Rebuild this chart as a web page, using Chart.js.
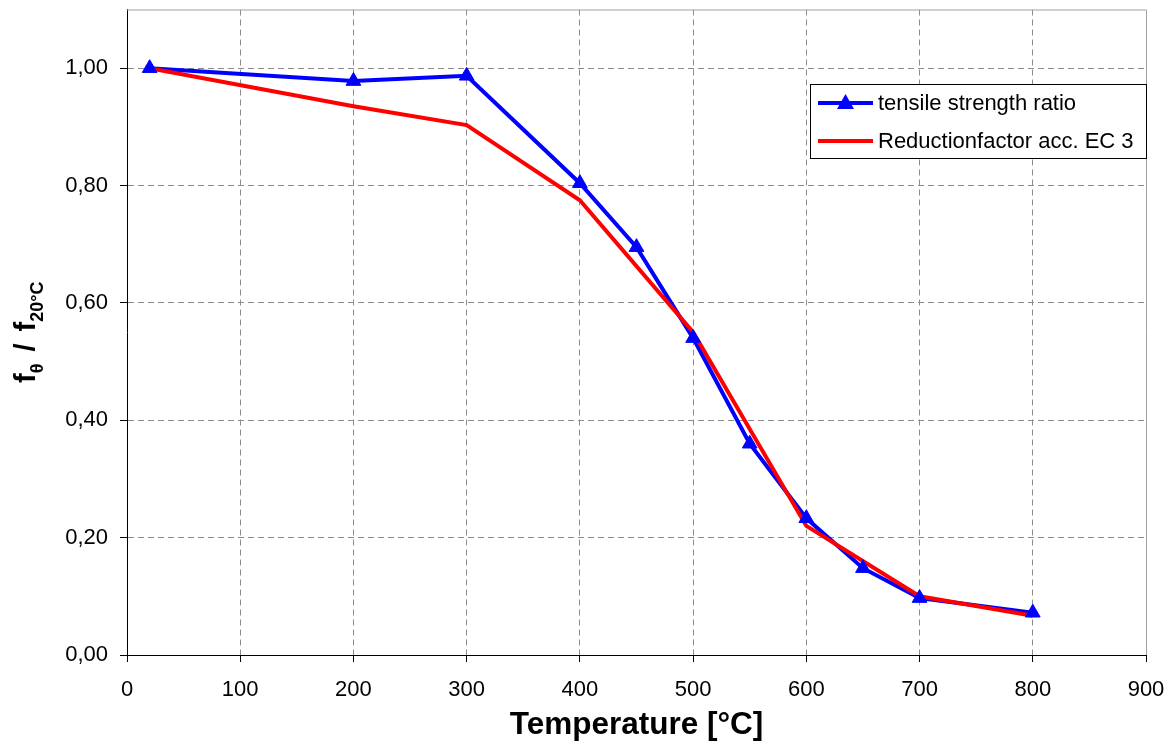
<!DOCTYPE html>
<html>
<head>
<meta charset="utf-8">
<title>Tensile strength ratio</title>
<script src="https://cdn.jsdelivr.net/npm/chart.js@4"></script>
<style>
    html, body { margin: 0; padding: 0; background: #fff; }
    #wrap { width: 1171px; height: 744px; }
</style>
</head>
<body>
<div id="wrap"><canvas id="tempChart" width="1171" height="744"></canvas></div>
<script>
// test results (blue) and EC 3 reduction factor (red)
const temps = [20, 200, 300, 400, 450, 500, 550, 600, 650, 700, 800];
const tensileRatio = [1.00, 0.978, 0.987, 0.804, 0.695, 0.54, 0.36, 0.233, 0.148, 0.097, 0.072];

const ecTemps = [20, 200, 300, 400, 500, 600, 700, 800];
const ecFactor = [1.00, 0.935, 0.903, 0.775, 0.550, 0.220, 0.100, 0.067];

const xTicks = [0, 100, 200, 300, 400, 500, 600, 700, 800, 900];
const yTicks = [0, 0.2, 0.4, 0.6, 0.8, 1.0];

const legendLabels = ["tensile strength ratio", "Reductionfactor acc. EC 3"];

const blue = "#0000ff";
const red = "#ff0000";

function toPoints(xs, ys) {
    return xs.map((x, i) => ({ x: x, y: ys[i] }));
}

// legend box, outer frame and the y title (needs subscripts)
const framePlugin = {
    id: "frame",
    afterDraw(chart) {
        const ctx = chart.ctx;
        const a = chart.chartArea;

        ctx.save();
        ctx.strokeStyle = "#a0a0a0";
        ctx.lineWidth = 1;
        ctx.beginPath();
        ctx.moveTo(a.left, a.top + 0.5);
        ctx.lineTo(a.right + 0.5, a.top + 0.5);
        ctx.lineTo(a.right + 0.5, a.bottom);
        ctx.stroke();

        // legend
        const lx = 810, ly = 84, lw = 337, lh = 75;
        ctx.fillStyle = "#fff";
        ctx.fillRect(lx, ly, lw, lh);
        ctx.strokeStyle = "#000";
        ctx.strokeRect(lx + 0.5, ly + 0.5, lw - 1, lh - 1);

        const rows = [ly + 19, ly + 57];
        const colors = [blue, red];
        ctx.font = "22px 'Liberation Sans', Arial, sans-serif";
        ctx.textBaseline = "middle";
        rows.forEach((y, i) => {
            ctx.strokeStyle = colors[i];
            ctx.lineWidth = 4;
            ctx.beginPath();
            ctx.moveTo(lx + 8, y);
            ctx.lineTo(lx + 63, y);
            ctx.stroke();
            if (i === 0) {
                ctx.fillStyle = blue;
                ctx.beginPath();
                ctx.moveTo(lx + 35.5, y - 9);
                ctx.lineTo(lx + 44, y + 6);
                ctx.lineTo(lx + 27, y + 6);
                ctx.closePath();
                ctx.fill();
            }
            ctx.fillStyle = "#000";
            ctx.fillText(legendLabels[i], lx + 68, y + 1);
        });

        // y title
        const parts = [
            { t: "f", big: true, gap: 0 },
            { t: "θ", big: false, gap: 0 },
            { t: "/", big: true, gap: 12 },
            { t: "f", big: true, gap: 12 },
            { t: "20°C", big: false, gap: 0 }
        ];
        const bigFont = "bold 29px 'Liberation Sans', Arial, sans-serif";
        const smallFont = "bold 18px 'Liberation Sans', Arial, sans-serif";
        let total = 0;
        parts.forEach(p => {
            ctx.font = p.big ? bigFont : smallFont;
            p.w = ctx.measureText(p.t).width;
            total += p.w + p.gap;
        });
        ctx.translate(35, (a.top + a.bottom) / 2);
        ctx.rotate(-Math.PI / 2);
        ctx.fillStyle = "#000";
        ctx.textBaseline = "alphabetic";
        let x = -total / 2;
        parts.forEach(p => {
            ctx.font = p.big ? bigFont : smallFont;
            x += p.gap;
            ctx.fillText(p.t, x, p.big ? 0 : 8);
            x += p.w;
        });
        ctx.restore();
    }
};

new Chart(document.getElementById("tempChart"), {
    type: "line",
    data: {
        datasets: [{
            label: legendLabels[0] + " markers",
            data: toPoints(temps, tensileRatio),
            showLine: false,
            pointStyle: "triangle",
            pointRadius: 8.5,
            pointBorderWidth: 1,
            pointBackgroundColor: blue,
            pointBorderColor: blue
        }, {
            label: legendLabels[1],
            data: toPoints(ecTemps, ecFactor),
            borderColor: red,
            borderWidth: 4,
            pointRadius: 0,
            tension: 0
        }, {
            label: legendLabels[0],
            data: toPoints(temps, tensileRatio),
            borderColor: blue,
            borderWidth: 4,
            pointRadius: 0,
            tension: 0
        }]
    },
    options: {
        responsive: false,
        animation: false,
        layout: { padding: { top: 8, right: 25, left: 0, bottom: 0 } },
        plugins: {
            legend: { display: false },
            tooltip: { enabled: false }
        },
        scales: {
            x: {
                type: "linear",
                min: 0,
                max: 900,
                afterBuildTicks: axis => { axis.ticks = xTicks.map(v => ({ value: v })); },
                afterFit: scale => {
                    scale.height = 89;
                    scale.paddingLeft = 0;
                    scale.paddingRight = 0;
                },
                ticks: {
                    color: "#000",
                    padding: 15,
                    maxRotation: 0,
                    font: { size: 22, family: "'Liberation Sans', Arial, sans-serif" }
                },
                grid: {
                    color: ctx => (ctx.tick && (ctx.tick.value === 0 || ctx.tick.value === 900)) ? "rgba(0,0,0,0)" : "#8c8c8c",
                    lineWidth: 1,
                    tickColor: "#000",
                    tickLength: 7,
                    tickBorderDash: []
                },
                border: { display: true, color: "#000", width: 1, dash: [6, 4] },
                title: {
                    display: true,
                    text: "Temperature [°C]",
                    color: "#000",
                    padding: { top: 1, bottom: 0 },
                    font: { size: 31.5, weight: "bold", family: "'Liberation Sans', Arial, sans-serif" }
                }
            },
            y: {
                type: "linear",
                min: 0,
                max: 1.1,
                afterBuildTicks: axis => { axis.ticks = yTicks.map(v => ({ value: v })); },
                afterFit: scale => {
                    scale.width = 127;
                    scale.paddingTop = 0;
                    scale.paddingBottom = 0;
                },
                ticks: {
                    color: "#000",
                    padding: 12,
                    font: { size: 22, family: "'Liberation Sans', Arial, sans-serif" },
                    callback: v => v.toFixed(2).replace(".", ",")
                },
                grid: {
                    color: ctx => (ctx.tick && ctx.tick.value === 0) ? "rgba(0,0,0,0)" : "#8c8c8c",
                    lineWidth: 1,
                    tickColor: "#000",
                    tickLength: 7,
                    tickBorderDash: []
                },
                border: { display: true, color: "#000", width: 1, dash: [6, 4] }
            }
        }
    },
    plugins: [framePlugin]
});
</script>
</body>
</html>
